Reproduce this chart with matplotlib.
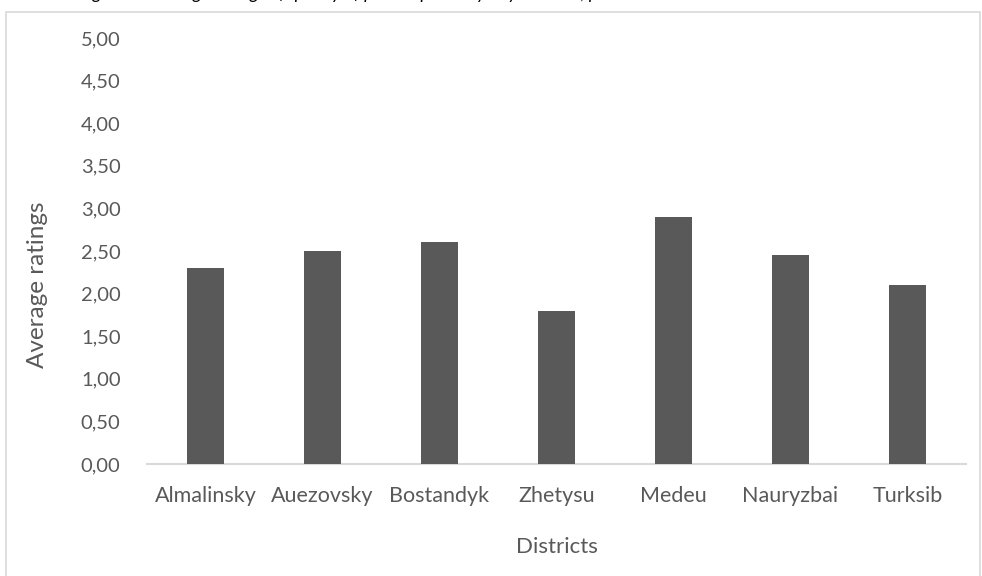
import matplotlib.pyplot as plt
from matplotlib.patches import Rectangle
from matplotlib.ticker import FuncFormatter, MultipleLocator

# Average ratings per district
districts = ["Almalinsky", "Auezovsky", "Bostandyk", "Zhetysu", "Medeu", "Nauryzbai", "Turksib"]
ratings = [2.30, 2.50, 2.60, 1.80, 2.90, 2.45, 2.10]

plt.rcParams['font.family'] = ['Lato', 'DejaVu Sans']

W, H = 982, 576
fig = plt.figure(figsize=(W / 100, H / 100), dpi=100)
ax = fig.add_axes([147 / W, 1 - 464 / H, (966 - 147) / W, (464 - 38) / H])

ax.bar(districts, ratings, width=0.315, color="#595959", zorder=3)

ax.set_xlim(-0.5, len(districts) - 0.5)
ax.set_ylim(0, 5)
ax.yaxis.set_major_locator(MultipleLocator(0.5))
ax.yaxis.set_major_formatter(FuncFormatter(lambda v, p: f"{v:.2f}".replace(".", ",")))

for side in ["top", "right", "left"]:
    ax.spines[side].set_visible(False)
ax.spines["bottom"].set_color("#d9d9d9")
ax.spines["bottom"].set_linewidth(1.5)
ax.tick_params(axis="both", length=0, colors="#595959")
ax.tick_params(axis="y", labelsize=14.5, pad=19)
ax.tick_params(axis="x", labelsize=15.5, pad=16)

ax.set_ylabel("Average ratings", fontsize=17.5, color="#595959")
ax.yaxis.set_label_coords(-0.121, 0.42)
ax.set_xlabel("Districts", fontsize=16, color="#595959", labelpad=22)

# chart border
fig.patches.append(Rectangle((6 / W, -0.05), (W - 8) / W, 1.04 - 6 / H,
                             transform=fig.transFigure, fill=False,
                             edgecolor="#d9d9d9", linewidth=1.2))

# caption above the chart, mostly cut off by the top edge
fig.text(0.08, 1 + 1 / H, "Figure 4. Average ratings of quality of public spaces by city districts, points",
         fontsize=13, style="italic", color="black", va="baseline")

fig.savefig("out.png", dpi=100)
